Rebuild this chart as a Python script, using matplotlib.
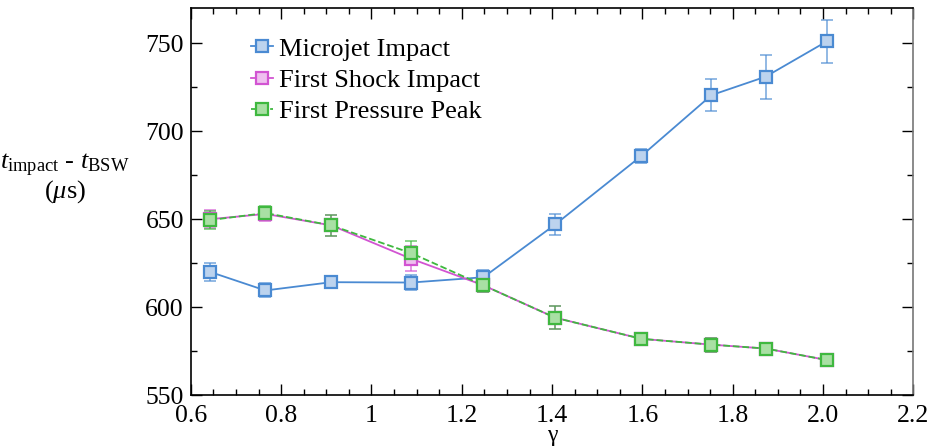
import matplotlib
matplotlib.use("Agg")
import matplotlib.pyplot as plt
from matplotlib.ticker import MultipleLocator

plt.rcParams['font.family'] = ['Liberation Serif', 'DejaVu Serif']
plt.rcParams['mathtext.fontset'] = 'custom'
plt.rcParams['mathtext.rm'] = 'Liberation Serif'
plt.rcParams['mathtext.it'] = 'Liberation Serif:italic'

# gamma values for each series
gamma = [0.643, 0.765, 0.911, 1.088, 1.248, 1.407, 1.598, 1.753, 1.873, 2.008]

microjet = [620, 609.5, 614.2, 614, 617, 647, 686, 720.5, 731, 751]
microjet_err = [5, 4, 3.5, 4, 4, 6, 4, 9, 12.5, 12]

shock = [650, 653, 646.5, 627.5, 612.4, 594, 582, 578.7, 576.5, 570]
shock_err = [5, 4, 6, 7, 4, 6.5, 3, 4, 2.5, 1]

pressure = [649.5, 653.5, 646.5, 630.7, 612.4, 594, 582, 578.7, 576.5, 570]
pressure_err = [5, 4, 6, 7, 4, 6.5, 3, 4, 2.5, 1]

xtick_vals = [0.6, 0.8, 1.0, 1.2, 1.4, 1.6, 1.8, 2.0, 2.2]
xtick_labels = ["0.6", "0.8", "1", "1.2", "1.4", "1.6", "1.8", "2.0", "2.2"]

fig = plt.figure(figsize=(9.31, 4.47), dpi=100)
ax = fig.add_axes([0.205, 0.116, 0.776, 0.866])

series = [
    ("Microjet Impact", microjet, microjet_err, "#4a8ad2", "#bcd3ee", "-"),
    ("First Shock Impact", shock, shock_err, "#d254d2", "#efc0ef", "-"),
    ("First Pressure Peak", pressure, pressure_err, "#3fb83f", "#a9e0a4", "--"),
]

for label, vals, errs, col, fill, ls in series:
    ax.errorbar(gamma, vals, yerr=errs, fmt="none", ecolor=col, alpha=0.65,
                elinewidth=1.3, capsize=4.5, capthick=1.3, zorder=2)
    ax.plot(gamma, vals, ls, color=col, lw=1.3, marker="s", markersize=9,
            markerfacecolor=fill, markeredgecolor=col, markeredgewidth=1.6,
            label=label, zorder=3)

ax.set_xlim(0.6, 2.2)
ax.set_ylim(550, 770)
ax.set_xticks(xtick_vals)
ax.set_xticklabels(xtick_labels)
ax.xaxis.set_minor_locator(MultipleLocator(0.05))
ax.yaxis.set_major_locator(MultipleLocator(50))
ax.yaxis.set_minor_locator(MultipleLocator(25))

ax.tick_params(which="both", direction="in", top=True, right=True,
               labelsize=18.5, width=1.0)
ax.tick_params(which="major", length=8)
ax.tick_params(axis="y", which="major", pad=5)
ax.tick_params(axis="x", which="major", pad=7)
ax.tick_params(which="minor", length=4)
for sp in ax.spines.values():
    sp.set_linewidth(1.2)
ax.spines["right"].set_color("#777777")

ax.set_xlabel("γ", fontsize=17, labelpad=-1)
fig.text(0.07, 0.63, r"$t_{\rm impact}$ - $t_{\rm BSW}$", fontsize=19,
         ha="center", va="center")
fig.text(0.07, 0.572, r"($\mu$s)", fontsize=19, ha="center", va="center")

ax.legend(loc="upper left", bbox_to_anchor=(0.083, 0.925), frameon=False,
          fontsize=19, handlelength=0.85, handletextpad=0.2, labelspacing=0.3,
          borderaxespad=0, borderpad=0)

fig.savefig("out.png", dpi=100)
